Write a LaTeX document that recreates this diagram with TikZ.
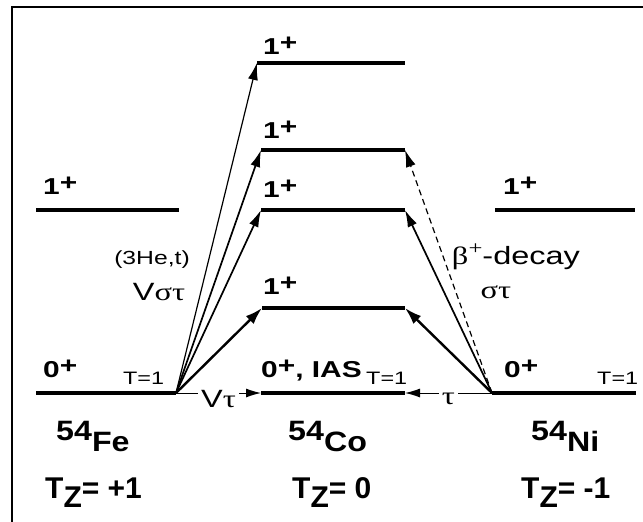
\documentclass[tikz,border=0pt]{standalone}
\usepackage{fontspec}
\setmainfont{Liberation Sans}
\newfontfamily\widefont[FakeStretch=1.3,BoldFeatures={FakeStretch=1.3}]{Liberation Sans}
\newfontfamily\nucfont[FakeStretch=1.15,BoldFeatures={FakeStretch=1.15}]{Liberation Sans}
\newfontfamily\grkfont[FakeStretch=1.3]{Liberation Serif}
\usetikzlibrary{arrows.meta}
\newcommand{\jp}[1]{#1\raisebox{0.16em}{+}}
\newcommand{\nuc}[2]{\raisebox{0.37em}{#1}#2}
\newcommand{\tz}[1]{T\raisebox{-0.33em}{Z}= #1}
\tikzset{
  frameline/.style={line width=2pt},
  level/.style={line width=4pt},
  lvllabel/.style={anchor=base west,inner sep=0pt,font=\widefont\bfseries\fontsize{23}{23}\selectfont},
  isolabel/.style={anchor=base west,inner sep=0pt,font=\widefont\fontsize{18}{18}\selectfont},
  nuclabel/.style={anchor=base west,inner sep=0pt,font=\nucfont\bfseries\fontsize{28}{28}\selectfont},
  tzlabel/.style={anchor=base west,inner sep=0pt,font=\bfseries\fontsize{30}{30}\selectfont},
  probe/.style={inner sep=0pt,font=\widefont\fontsize{25}{25}\selectfont},
  smallprobe/.style={inner sep=0pt,font=\widefont\fontsize{19}{19}\selectfont},
  gtthick/.style={-{Latex[length=17pt,width=11pt]},line width=2.4pt},
  gtmid/.style={-{Latex[length=17pt,width=10pt]},line width=1.7pt},
  gtthin/.style={-{Latex[length=17pt,width=10pt]},line width=1.2pt},
  betaedge/.style={-{Latex[length=17pt,width=10pt]},line width=1.2pt,dash pattern=on 6pt off 4pt},
  fedge/.style={-{Latex[length=15pt,width=9pt]},line width=1pt}
}

\begin{document}
\begin{tikzpicture}[x=1pt,y=-1pt]
  \useasboundingbox (0,0) rectangle (643,522);
  \draw[frameline] (12,522) -- (12,7) -- (643,7);

  % level ends
  \coordinate (fe1L) at (36,210);  \coordinate (fe1R) at (179,210);
  \coordinate (fe0L) at (36,393);  \coordinate (fe0R) at (176,393);
  \coordinate (ni1L) at (495,210); \coordinate (ni1R) at (635,210);
  \coordinate (ni0L) at (492,393); \coordinate (ni0R) at (636,393);
  \coordinate (coAL) at (257,63);  \coordinate (coAR) at (405,63);
  \coordinate (coBL) at (261,150); \coordinate (coBR) at (405,150);
  \coordinate (coCL) at (261,210); \coordinate (coCR) at (405,210);
  \coordinate (coDL) at (262,308); \coordinate (coDR) at (405,308);
  \coordinate (iasL) at (261,393); \coordinate (iasR) at (405,393);

  \draw[level] (fe1L) -- (fe1R);
  \draw[level] (fe0L) -- (fe0R);
  \draw[level] (ni1L) -- (ni1R);
  \draw[level] (ni0L) -- (ni0R);
  \draw[level] (coAL) -- (coAR);
  \draw[level] (coBL) -- (coBR);
  \draw[level] (coCL) -- (coCR);
  \draw[level] (coDL) -- (coDR);
  \draw[level] (iasL) -- (iasR);

  \node[lvllabel] (jfe1) at (43,194) {\jp{1}};
  \node[lvllabel] (jni1) at (503,194) {\jp{1}};
  \node[lvllabel] (jcoA) at (263,54) {\jp{1}};
  \node[lvllabel] (jcoB) at (263,138) {\jp{1}};
  \node[lvllabel] (jcoC) at (263,197) {\jp{1}};
  \node[lvllabel] (jcoD) at (263,294) {\jp{1}};
  \node[lvllabel] (jfe0) at (43,377) {\jp{0}};
  \node[lvllabel] (jni0) at (504,377) {\jp{0}};
  \node[lvllabel] (jias) at (261,377) {\jp{0}, IAS};
  \node[isolabel] (tfe) at (123,384) {T=1};
  \node[isolabel] (tias) at (366,384) {T=1};
  \node[isolabel] (tni) at (597,384) {T=1};

  % (3He,t) side
  \draw[gtthin] (fe0R) -- (coAL);
  \draw[gtmid] (fe0R) -- (coBL);
  \draw[gtmid] (fe0R) -- (coCL);
  \draw[gtthick] (fe0R) -- (coDL);
  \draw[fedge] (fe0R) -- node[probe,fill=white,inner sep=3pt,yshift=-6pt] (vtau) {V{\grkfont τ}} (iasL);
  \node[smallprobe] (he3t) at (152,260) {(3He,t)};
  \node[probe] (vst) at (159,292) {V{\grkfont στ}};

  % beta decay side
  \draw[gtthick] (ni0L) -- (coDR);
  \draw[gtmid] (ni0L) -- (coCR);
  \draw[betaedge] (ni0L) -- (coBR);
  \draw[fedge] (ni0L) -- node[probe,fill=white,inner sep=3pt,yshift=-6pt] (tau) {\grkfont τ} (iasR);
  \node[probe] (beta) at (516,257) {{\grkfont β\raisebox{0.42em}{\fontsize{19}{19}\selectfont+}}-decay};
  \node[probe] (st) at (496,292) {\grkfont στ};

  \node[nuclabel] (fe) at (56,451) {\nuc{54}{Fe}};
  \node[nuclabel] (co) at (288,451) {\nuc{54}{Co}};
  \node[nuclabel] (ni) at (531,451) {\nuc{54}{Ni}};
  \node[tzlabel] (tzfe) at (45,498) {\tz{+1}};
  \node[tzlabel] (tzco) at (292,498) {\tz{0}};
  \node[tzlabel] (tzni) at (521,498) {\tz{-1}};
\end{tikzpicture}
\end{document}
